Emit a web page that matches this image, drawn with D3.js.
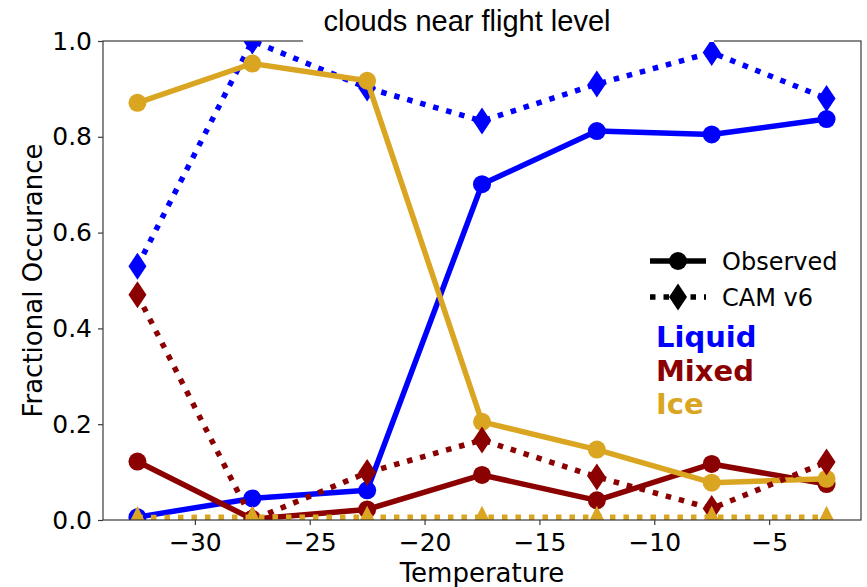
<!DOCTYPE html>
<html>
<head>
<meta charset="utf-8">
<script src="https://cdn.jsdelivr.net/npm/d3@7"></script>
<style>
  html, body { margin: 0; padding: 0; background: #fff; }
  svg { display: block; }
  .tick text { font-family: "DejaVu Sans", sans-serif; font-size: 25px; fill: #000; }
</style>
</head>
<body>
<svg id="chart" width="867" height="587"></svg>
<script>
// Temperature bins (bin centres, deg C)
const temps = [-32.5, -27.5, -22.5, -17.5, -12.5, -7.5, -2.5];

// Fractional occurrence of each cloud phase, observed vs CAM v6
const obsLiquid = [0.006, 0.045, 0.062, 0.701, 0.812, 0.805, 0.837];
const camLiquid = [0.530, 1.000, 0.902, 0.833, 0.910, 0.976, 0.880];
const obsMixed  = [0.122, 0.002, 0.022, 0.094, 0.041, 0.117, 0.075];
const camMixed  = [0.470, 0.000, 0.099, 0.167, 0.090, 0.024, 0.121];
const obsIce    = [0.871, 0.953, 0.917, 0.205, 0.147, 0.078, 0.086];
const camIce    = [0.005, 0.006, 0.006, 0.006, 0.006, 0.006, 0.006];

const xTicks = [-30, -25, -20, -15, -10, -5];
const yTicks = [0.0, 0.2, 0.4, 0.6, 0.8, 1.0];

const phaseNames  = ["Liquid", "Mixed", "Ice"];
const phaseColors = ["#0000ff", "#8b0000", "#daa520"];

const svg = d3.select("#chart");
const plot = { left: 103, right: 861, top: 41, bottom: 520 };

const x = d3.scaleLinear().domain([-34, -1]).range([plot.left, plot.right]);
const y = d3.scaleLinear().domain([0, 1]).range([plot.bottom, plot.top]);

svg.append("defs").append("clipPath").attr("id", "plotClip")
  .append("rect")
  .attr("x", plot.left).attr("y", plot.top)
  .attr("width", plot.right - plot.left).attr("height", plot.bottom - plot.top);

const LW = 5.5;
const dotted = "5.5,8";

const markerPath = {
  circle: d3.symbol(d3.symbolCircle, Math.PI * 9 * 9)(),
  diamond: (() => {
    const h = 13.5, w = 9;
    return `M0,${-h}L${w},0L0,${h}L${-w},0Z`;
  })(),
  triangle: (() => {
    const r = 11.5;
    return `M0,${-r}L${r},${r}L${-r},${r}Z`;
  })()
};

const layer = svg.append("g").attr("clip-path", "url(#plotClip)");

function drawSeries(values, color, dash, marker) {
  const pts = temps.map((t, i) => [x(t), y(values[i])]);
  layer.append("path")
    .attr("d", d3.line()(pts))
    .attr("fill", "none")
    .attr("stroke", color)
    .attr("stroke-width", LW)
    .attr("stroke-dasharray", dash)
    .attr("stroke-linejoin", "round")
    .attr("stroke-linecap", dash ? "butt" : "round");
  layer.selectAll(null).data(pts).enter().append("path")
    .attr("d", markerPath[marker])
    .attr("transform", d => `translate(${d[0]},${d[1]})`)
    .attr("fill", color);
}

drawSeries(obsLiquid, phaseColors[0], null, "circle");
drawSeries(camLiquid, phaseColors[0], dotted, "diamond");
drawSeries(obsMixed,  phaseColors[1], null, "circle");
drawSeries(obsIce,    phaseColors[2], null, "circle");
drawSeries(camMixed,  phaseColors[1], dotted, "diamond");
drawSeries(camIce,    phaseColors[2], dotted, "triangle");

// Frame
const spine = "#3a3a3a";
svg.append("rect")
  .attr("x", plot.left).attr("y", plot.top)
  .attr("width", plot.right - plot.left).attr("height", plot.bottom - plot.top)
  .attr("fill", "none").attr("stroke", spine).attr("stroke-width", 1.2);

// Axes
const fmtMinus = d => d3.format("d")(d).replace("-", "\u2212");
const xAxis = svg.append("g")
  .attr("transform", `translate(0,${plot.bottom})`)
  .call(d3.axisBottom(x).tickValues(xTicks).tickFormat(fmtMinus).tickSize(5).tickPadding(8));
const yAxis = svg.append("g")
  .attr("transform", `translate(${plot.left},0)`)
  .call(d3.axisLeft(y).tickValues(yTicks).tickFormat(d3.format(".1f")).tickSize(5).tickPadding(6));
[xAxis, yAxis].forEach(a => {
  a.select(".domain").remove();
  a.selectAll(".tick line").attr("stroke", spine).attr("stroke-width", 1.2);
});

// Axis titles
svg.append("text")
  .attr("x", (plot.left + plot.right) / 2).attr("y", 582)
  .attr("text-anchor", "middle")
  .style("font-family", "'DejaVu Sans', sans-serif").style("font-size", "26px")
  .text("Temperature");
svg.append("text")
  .attr("transform", `translate(42,${(plot.top + plot.bottom) / 2}) rotate(-90)`)
  .attr("text-anchor", "middle")
  .style("font-family", "'DejaVu Sans', sans-serif").style("font-size", "26px")
  .text("Fractional Occurance");

// Title with white backing box
svg.append("rect")
  .attr("x", 303).attr("y", 0).attr("width", 411).attr("height", 42)
  .attr("fill", "#fff");
svg.append("text")
  .attr("x", 467).attr("y", 31)
  .attr("text-anchor", "middle")
  .style("font-family", "'Liberation Sans', Arial, sans-serif").style("font-size", "29px")
  .text("clouds near flight level");

// Legend: line styles
const legend = svg.append("g");
const legRows = [
  { label: "Observed", dash: null, marker: "circle", y: 261 },
  { label: "CAM v6", dash: dotted, marker: "diamond", y: 297 }
];
legRows.forEach(r => {
  legend.append("line")
    .attr("x1", 650).attr("x2", 706).attr("y1", r.y).attr("y2", r.y)
    .attr("stroke", "#000").attr("stroke-width", LW)
    .attr("stroke-dasharray", r.dash);
  legend.append("path")
    .attr("d", markerPath[r.marker])
    .attr("transform", `translate(678,${r.y})`)
    .attr("fill", "#000");
  legend.append("text")
    .attr("x", 722).attr("y", r.y + 8.5)
    .style("font-family", "'DejaVu Sans', sans-serif").style("font-size", "24px")
    .text(r.label);
});

// Legend: phase colours
const phaseBase = [347, 381, 414];
phaseNames.forEach((name, i) => {
  legend.append("text")
    .attr("x", 656).attr("y", phaseBase[i])
    .attr("fill", phaseColors[i])
    .style("font-family", "'DejaVu Sans', sans-serif").style("font-size", "29px")
    .style("font-weight", "bold")
    .text(name);
});
</script>
</body>
</html>
